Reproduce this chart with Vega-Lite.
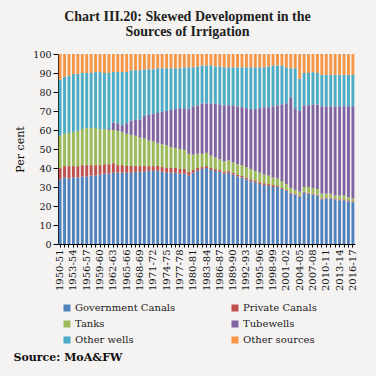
{
  "$schema": "https://vega.github.io/schema/vega-lite/v6.json",
  "width": 297,
  "height": 190,
  "autosize": {"type": "none"},
  "padding": {"left": 58, "top": 54, "right": 21, "bottom": 132},
  "background": "#f5f2f2",
  "title": {
    "text": ["Chart III.20: Skewed Development in the", "Sources of Irrigation"],
    "font": "Liberation Serif",
    "fontSize": 14,
    "fontWeight": "bold",
    "color": "#222222",
    "anchor": "middle",
    "frame": "group",
    "dx": -19,
    "offset": 10,
    "lineHeight": 15
  },
  "data": {
    "values": [
      {"year": "1950-51", "Government Canals": 34, "Private Canals": 6, "Tanks": 17, "Tubewells": 0, "Other wells": 29.5, "Other sources": 13.5},
      {"year": "1951-52", "Government Canals": 35, "Private Canals": 6, "Tanks": 17, "Tubewells": 0, "Other wells": 30, "Other sources": 12},
      {"year": "1952-53", "Government Canals": 34.5, "Private Canals": 6.5, "Tanks": 17.5, "Tubewells": 0, "Other wells": 30, "Other sources": 11.5},
      {"year": "1953-54", "Government Canals": 35, "Private Canals": 6, "Tanks": 18, "Tubewells": 0, "Other wells": 30.5, "Other sources": 10.5},
      {"year": "1954-55", "Government Canals": 35, "Private Canals": 6, "Tanks": 18.5, "Tubewells": 0, "Other wells": 30, "Other sources": 10.5},
      {"year": "1955-56", "Government Canals": 35.5, "Private Canals": 6, "Tanks": 19, "Tubewells": 0, "Other wells": 29.5, "Other sources": 10},
      {"year": "1956-57", "Government Canals": 35.5, "Private Canals": 6, "Tanks": 19.5, "Tubewells": 0, "Other wells": 29, "Other sources": 10},
      {"year": "1957-58", "Government Canals": 36, "Private Canals": 5.5, "Tanks": 19.5, "Tubewells": 0, "Other wells": 29, "Other sources": 10},
      {"year": "1958-59", "Government Canals": 36, "Private Canals": 5.5, "Tanks": 19.5, "Tubewells": 0, "Other wells": 29.5, "Other sources": 9.5},
      {"year": "1959-60", "Government Canals": 36.5, "Private Canals": 5, "Tanks": 19, "Tubewells": 0, "Other wells": 30, "Other sources": 9.5},
      {"year": "1960-61", "Government Canals": 37, "Private Canals": 5, "Tanks": 18.5, "Tubewells": 0, "Other wells": 29.5, "Other sources": 10},
      {"year": "1961-62", "Government Canals": 37, "Private Canals": 5, "Tanks": 18, "Tubewells": 0.5, "Other wells": 29.5, "Other sources": 10},
      {"year": "1962-63", "Government Canals": 37.5, "Private Canals": 5, "Tanks": 17.5, "Tubewells": 4, "Other wells": 26.5, "Other sources": 9.5},
      {"year": "1963-64", "Government Canals": 37.5, "Private Canals": 4, "Tanks": 18, "Tubewells": 4, "Other wells": 27, "Other sources": 9.5},
      {"year": "1964-65", "Government Canals": 37.5, "Private Canals": 4, "Tanks": 17.5, "Tubewells": 3.5, "Other wells": 28, "Other sources": 9.5},
      {"year": "1965-66", "Government Canals": 37.5, "Private Canals": 3.5, "Tanks": 17, "Tubewells": 5.5, "Other wells": 27, "Other sources": 9.5},
      {"year": "1966-67", "Government Canals": 37.5, "Private Canals": 3.5, "Tanks": 16.5, "Tubewells": 7.5, "Other wells": 26.5, "Other sources": 8.5},
      {"year": "1967-68", "Government Canals": 38, "Private Canals": 3, "Tanks": 16, "Tubewells": 8.5, "Other wells": 26, "Other sources": 8.5},
      {"year": "1968-69", "Government Canals": 38, "Private Canals": 3, "Tanks": 15, "Tubewells": 9.5, "Other wells": 26, "Other sources": 8.5},
      {"year": "1969-70", "Government Canals": 38, "Private Canals": 3, "Tanks": 14.5, "Tubewells": 12, "Other wells": 24.5, "Other sources": 8},
      {"year": "1970-71", "Government Canals": 38.5, "Private Canals": 2.5, "Tanks": 13.5, "Tubewells": 13.5, "Other wells": 24, "Other sources": 8},
      {"year": "1971-72", "Government Canals": 38.5, "Private Canals": 2.5, "Tanks": 13, "Tubewells": 14.5, "Other wells": 23.5, "Other sources": 8},
      {"year": "1972-73", "Government Canals": 38.5, "Private Canals": 2.5, "Tanks": 12, "Tubewells": 16, "Other wells": 23.5, "Other sources": 7.5},
      {"year": "1973-74", "Government Canals": 38, "Private Canals": 2.5, "Tanks": 12, "Tubewells": 17, "Other wells": 23, "Other sources": 7.5},
      {"year": "1974-75", "Government Canals": 37.5, "Private Canals": 2.5, "Tanks": 12, "Tubewells": 18, "Other wells": 22.5, "Other sources": 7.5},
      {"year": "1975-76", "Government Canals": 37.5, "Private Canals": 2.5, "Tanks": 11, "Tubewells": 19.5, "Other wells": 22, "Other sources": 7.5},
      {"year": "1976-77", "Government Canals": 37.5, "Private Canals": 2.5, "Tanks": 10.5, "Tubewells": 20.5, "Other wells": 21.5, "Other sources": 7.5},
      {"year": "1977-78", "Government Canals": 37, "Private Canals": 2.5, "Tanks": 10.5, "Tubewells": 21.5, "Other wells": 21, "Other sources": 7.5},
      {"year": "1978-79", "Government Canals": 37, "Private Canals": 2.5, "Tanks": 10, "Tubewells": 22, "Other wells": 21.5, "Other sources": 7},
      {"year": "1979-80", "Government Canals": 36, "Private Canals": 2, "Tanks": 9.5, "Tubewells": 23.5, "Other wells": 22, "Other sources": 7},
      {"year": "1980-81", "Government Canals": 37.5, "Private Canals": 1.5, "Tanks": 8, "Tubewells": 25.5, "Other wells": 20.5, "Other sources": 7},
      {"year": "1981-82", "Government Canals": 38.5, "Private Canals": 1.5, "Tanks": 7.5, "Tubewells": 25.5, "Other wells": 20.5, "Other sources": 6.5},
      {"year": "1982-83", "Government Canals": 39.5, "Private Canals": 1, "Tanks": 7, "Tubewells": 26.5, "Other wells": 20, "Other sources": 6},
      {"year": "1983-84", "Government Canals": 40, "Private Canals": 1, "Tanks": 7, "Tubewells": 26, "Other wells": 20, "Other sources": 6},
      {"year": "1984-85", "Government Canals": 39, "Private Canals": 1, "Tanks": 6.5, "Tubewells": 27.5, "Other wells": 20, "Other sources": 6},
      {"year": "1985-86", "Government Canals": 38.5, "Private Canals": 1, "Tanks": 6, "Tubewells": 28.5, "Other wells": 19.5, "Other sources": 6.5},
      {"year": "1986-87", "Government Canals": 38, "Private Canals": 1, "Tanks": 5.5, "Tubewells": 29, "Other wells": 20, "Other sources": 6.5},
      {"year": "1987-88", "Government Canals": 37, "Private Canals": 1, "Tanks": 5.5, "Tubewells": 29.5, "Other wells": 20, "Other sources": 7},
      {"year": "1988-89", "Government Canals": 37.5, "Private Canals": 1, "Tanks": 5.5, "Tubewells": 29, "Other wells": 20, "Other sources": 7},
      {"year": "1989-90", "Government Canals": 36.5, "Private Canals": 1, "Tanks": 5.5, "Tubewells": 30, "Other wells": 20, "Other sources": 7},
      {"year": "1990-91", "Government Canals": 35.5, "Private Canals": 1, "Tanks": 5.5, "Tubewells": 30.5, "Other wells": 20.5, "Other sources": 7},
      {"year": "1991-92", "Government Canals": 35, "Private Canals": 1, "Tanks": 5.5, "Tubewells": 30.5, "Other wells": 21, "Other sources": 7},
      {"year": "1992-93", "Government Canals": 34, "Private Canals": 1, "Tanks": 5.5, "Tubewells": 31, "Other wells": 21.5, "Other sources": 7},
      {"year": "1993-94", "Government Canals": 33, "Private Canals": 1, "Tanks": 5.5, "Tubewells": 31.5, "Other wells": 22, "Other sources": 7},
      {"year": "1994-95", "Government Canals": 32.5, "Private Canals": 1, "Tanks": 5, "Tubewells": 32.5, "Other wells": 22, "Other sources": 7},
      {"year": "1995-96", "Government Canals": 31.5, "Private Canals": 1, "Tanks": 5, "Tubewells": 34, "Other wells": 21.5, "Other sources": 7},
      {"year": "1996-97", "Government Canals": 31, "Private Canals": 1, "Tanks": 4.5, "Tubewells": 35.5, "Other wells": 21, "Other sources": 7},
      {"year": "1997-98", "Government Canals": 30.5, "Private Canals": 1, "Tanks": 4.5, "Tubewells": 36, "Other wells": 21.5, "Other sources": 6.5},
      {"year": "1998-99", "Government Canals": 30, "Private Canals": 1, "Tanks": 4, "Tubewells": 37.5, "Other wells": 21.5, "Other sources": 6},
      {"year": "1999-00", "Government Canals": 30, "Private Canals": 0.5, "Tanks": 4, "Tubewells": 38.5, "Other wells": 21, "Other sources": 6},
      {"year": "2000-01", "Government Canals": 29, "Private Canals": 0.5, "Tanks": 3.5, "Tubewells": 40.5, "Other wells": 20.5, "Other sources": 6},
      {"year": "2001-02", "Government Canals": 28, "Private Canals": 0.5, "Tanks": 3, "Tubewells": 42.5, "Other wells": 19, "Other sources": 7},
      {"year": "2002-03", "Government Canals": 26.5, "Private Canals": 0.5, "Tanks": 2.5, "Tubewells": 47.5, "Other wells": 15.5, "Other sources": 7.5},
      {"year": "2003-04", "Government Canals": 26, "Private Canals": 0.5, "Tanks": 2, "Tubewells": 43, "Other wells": 21, "Other sources": 7.5},
      {"year": "2004-05", "Government Canals": 25, "Private Canals": 0.5, "Tanks": 2, "Tubewells": 42.5, "Other wells": 17, "Other sources": 13},
      {"year": "2005-06", "Government Canals": 27, "Private Canals": 0.5, "Tanks": 2.5, "Tubewells": 43, "Other wells": 17, "Other sources": 10},
      {"year": "2006-07", "Government Canals": 26.5, "Private Canals": 0.5, "Tanks": 3, "Tubewells": 43, "Other wells": 17, "Other sources": 10},
      {"year": "2007-08", "Government Canals": 26, "Private Canals": 0.5, "Tanks": 3, "Tubewells": 44, "Other wells": 17, "Other sources": 9.5},
      {"year": "2008-09", "Government Canals": 25.5, "Private Canals": 0.5, "Tanks": 3, "Tubewells": 44.5, "Other wells": 16.5, "Other sources": 10},
      {"year": "2009-10", "Government Canals": 23.5, "Private Canals": 0.5, "Tanks": 2.5, "Tubewells": 46, "Other wells": 16.5, "Other sources": 11},
      {"year": "2010-11", "Government Canals": 24, "Private Canals": 0.5, "Tanks": 2, "Tubewells": 46, "Other wells": 16.5, "Other sources": 11},
      {"year": "2011-12", "Government Canals": 24, "Private Canals": 0.5, "Tanks": 2, "Tubewells": 46, "Other wells": 16.5, "Other sources": 11},
      {"year": "2012-13", "Government Canals": 23.5, "Private Canals": 0.5, "Tanks": 1.5, "Tubewells": 47, "Other wells": 16.5, "Other sources": 11},
      {"year": "2013-14", "Government Canals": 23, "Private Canals": 0.5, "Tanks": 2, "Tubewells": 47, "Other wells": 16.5, "Other sources": 11},
      {"year": "2014-15", "Government Canals": 23, "Private Canals": 0.5, "Tanks": 2, "Tubewells": 47, "Other wells": 16.5, "Other sources": 11},
      {"year": "2015-16", "Government Canals": 22.5, "Private Canals": 0.5, "Tanks": 1.5, "Tubewells": 48, "Other wells": 16.5, "Other sources": 11},
      {"year": "2016-17", "Government Canals": 22, "Private Canals": 0.5, "Tanks": 1.5, "Tubewells": 48.5, "Other wells": 16.5, "Other sources": 11}
    ]
  },
  "transform": [
    {"fold": ["Government Canals", "Private Canals", "Tanks", "Tubewells", "Other wells", "Other sources"], "as": ["source", "share"]},
    {"window": [{"op": "row_number", "as": "stackpos"}], "groupby": ["year"]}
  ],
  "mark": {"type": "bar"},
  "encoding": {
    "x": {
      "field": "year",
      "type": "ordinal",
      "sort": null,
      "scale": {"paddingInner": 0.35, "paddingOuter": 0.15},
      "axis": {
        "title": "Source: MoA&FW",
        "titleFont": "DejaVu Serif",
        "titleFontWeight": "bold",
        "titleFontSize": 11,
        "titleColor": "#111111",
        "titleX": -45,
        "titleY": 116,
        "titleAlign": "left",
        "titleBaseline": "alphabetic",
        "titleAngle": 0,
        "labelAngle": -90,
        "labelExpr": "(toNumber(slice(datum.value,0,4)) - 1950) % 3 == 0 ? datum.value : ''",
        "labelOverlap": false,
        "labelFont": "DejaVu Serif",
        "labelFontSize": 10,
        "labelColor": "#111111",
        "labelPadding": 2,
        "tickSize": 3,
        "tickColor": "#000000",
        "domainColor": "#000000",
        "grid": false
      }
    },
    "y": {
      "field": "share",
      "type": "quantitative",
      "stack": "zero",
      "scale": {"domain": [0, 100], "nice": false},
      "axis": {
        "title": "Per cent",
        "titleFont": "DejaVu Serif",
        "titleFontWeight": "normal",
        "titleFontSize": 11,
        "titleColor": "#111111",
        "titlePadding": 7,
        "values": [0, 10, 20, 30, 40, 50, 60, 70, 80, 90, 100],
        "grid": false,
        "labelFont": "DejaVu Serif",
        "labelFontSize": 9.5,
        "labelColor": "#111111",
        "labelPadding": 2,
        "tickSize": 5,
        "tickColor": "#000000",
        "domainColor": "#000000"
      }
    },
    "order": {"field": "stackpos", "type": "quantitative", "sort": "ascending"},
    "color": {
      "field": "source",
      "type": "nominal",
      "scale": {
        "domain": ["Government Canals", "Tanks", "Other wells", "Private Canals", "Tubewells", "Other sources"],
        "range": ["#4f81bd", "#9bbb59", "#4bacc6", "#c0504d", "#8064a2", "#f79646"]
      },
      "legend": {
        "orient": "none",
        "legendX": 4,
        "legendY": 249,
        "columns": 2,
        "title": null,
        "symbolType": "square",
        "symbolSize": 49,
        "symbolStrokeWidth": 0,
        "labelFont": "DejaVu Serif",
        "labelFontSize": 10,
        "labelColor": "#222222",
        "labelLimit": 300,
        "labelOffset": 3,
        "columnPadding": 54,
        "rowPadding": 6,
        "padding": 0
      }
    }
  },
  "config": {
    "view": {"stroke": null},
    "font": "DejaVu Serif"
  }
}
